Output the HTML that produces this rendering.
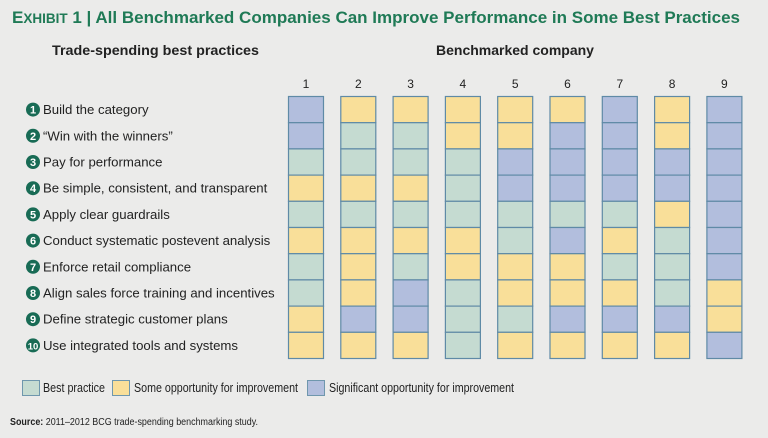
<!DOCTYPE html>
<html><head><meta charset="utf-8"><style>
body{margin:0;background:#ebebea;}
svg{display:block;font-family:"Liberation Sans",sans-serif;}
</style></head><body>
<svg width="768" height="438" viewBox="0 0 768 438">
<rect width="768" height="438" fill="#ebebea"/>
<text x="12" y="23" font-size="17" font-weight="bold" fill="#1f7a56" textLength="728" lengthAdjust="spacingAndGlyphs">E<tspan font-size="13.5">XHIBIT</tspan> 1 | All Benchmarked Companies Can Improve Performance in Some Best Practices</text>
<text x="52" y="55" font-size="14" font-weight="bold" fill="#222" textLength="207" lengthAdjust="spacingAndGlyphs">Trade-spending best practices</text>
<text x="515" y="55" font-size="14" font-weight="bold" fill="#222" text-anchor="middle">Benchmarked company</text>
<g id="labels"></g>
<g id="grid"></g>
<g>
<rect x="22.5" y="380.5" width="17" height="15" fill="#c5dbd1" stroke="#6f97ad"/>
<text x="43" y="392" font-size="13" fill="#222" textLength="62" lengthAdjust="spacingAndGlyphs">Best practice</text>
<rect x="112.5" y="380.5" width="17" height="15" fill="#f9df99" stroke="#6f97ad"/>
<text x="134" y="392" font-size="13" fill="#222" textLength="164" lengthAdjust="spacingAndGlyphs">Some opportunity for improvement</text>
<rect x="307.5" y="380.5" width="17" height="15" fill="#b2bedd" stroke="#6f97ad"/>
<text x="329" y="392" font-size="13" fill="#222" textLength="185" lengthAdjust="spacingAndGlyphs">Significant opportunity for improvement</text>
</g>
<text x="10" y="425" font-size="10" fill="#222" textLength="248" lengthAdjust="spacingAndGlyphs"><tspan font-weight="bold">Source:</tspan> 2011–2012 BCG trade-spending benchmarking study.</text>
</svg>
<script>
const practices=["Build the category","\u201cWin with the winners\u201d","Pay for performance","Be simple, consistent, and transparent","Apply clear guardrails","Conduct systematic postevent analysis","Enforce retail compliance","Align sales force training and incentives","Define strategic customer plans","Use integrated tools and systems"];
const companies=["1","2","3","4","5","6","7","8","9"];
const c1=["B","B","G","Y","G","Y","G","G","Y","Y"];
const c2=["Y","G","G","Y","G","Y","Y","Y","B","Y"];
const c3=["Y","G","G","Y","G","Y","G","B","B","Y"];
const c4=["Y","Y","G","G","G","Y","Y","G","G","G"];
const c5=["Y","Y","B","B","G","G","Y","Y","G","Y"];
const c6=["Y","B","B","B","G","B","Y","Y","B","Y"];
const c7=["B","B","B","B","G","Y","G","Y","B","Y"];
const c8=["Y","Y","B","B","Y","G","G","G","B","Y"];
const c9=["B","B","B","B","B","B","B","Y","Y","B"];
const ratings=[c1,c2,c3,c4,c5,c6,c7,c8,c9];
const NS="http://www.w3.org/2000/svg";
const fills={G:"#c5dbd1",Y:"#f9df99",B:"#b2bedd"};
const x0=288.5,colStep=52.3,cw=35,y0=96.5,rowStep=26.2;
const xs=i=>x0+i*colStep, ys=j=>y0+j*rowStep;
const grid=document.getElementById('grid'),labels=document.getElementById('labels');
function mk(t,a){const e=document.createElementNS(NS,t);for(const k in a)e.setAttribute(k,a[k]);return e;}
companies.forEach((c,i)=>{
 const t=mk('text',{x:xs(i)+cw/2,y:88,'font-size':12,'text-anchor':'middle',fill:'#222'});
 t.textContent=c;
 
 
 grid.appendChild(t);
 ratings[i].forEach((r,j)=>{
  const rc=mk('rect',{x:xs(i),y:ys(j),width:cw,height:rowStep,fill:fills[r],stroke:'#5f8aa6','stroke-width':1.2});
  
  
  grid.appendChild(rc);
 });
});
practices.forEach((p,j)=>{
 const cy=ys(j)+rowStep/2;
 const g=mk('g',{});
 
 
 g.appendChild(mk('circle',{cx:33,cy:cy,r:7,fill:'#186b55'}));
 const n=mk('text',{x:33,y:cy+4,'font-size':j==9?9.5:11,'font-weight':'bold','text-anchor':'middle',fill:'#fff'});
 n.textContent=j+1;g.appendChild(n);
 const t=mk('text',{x:43,y:cy+4.5,'font-size':13.2,fill:'#222'});
 t.textContent=p;g.appendChild(t);
 labels.appendChild(g);
});
</script>
</body></html>
